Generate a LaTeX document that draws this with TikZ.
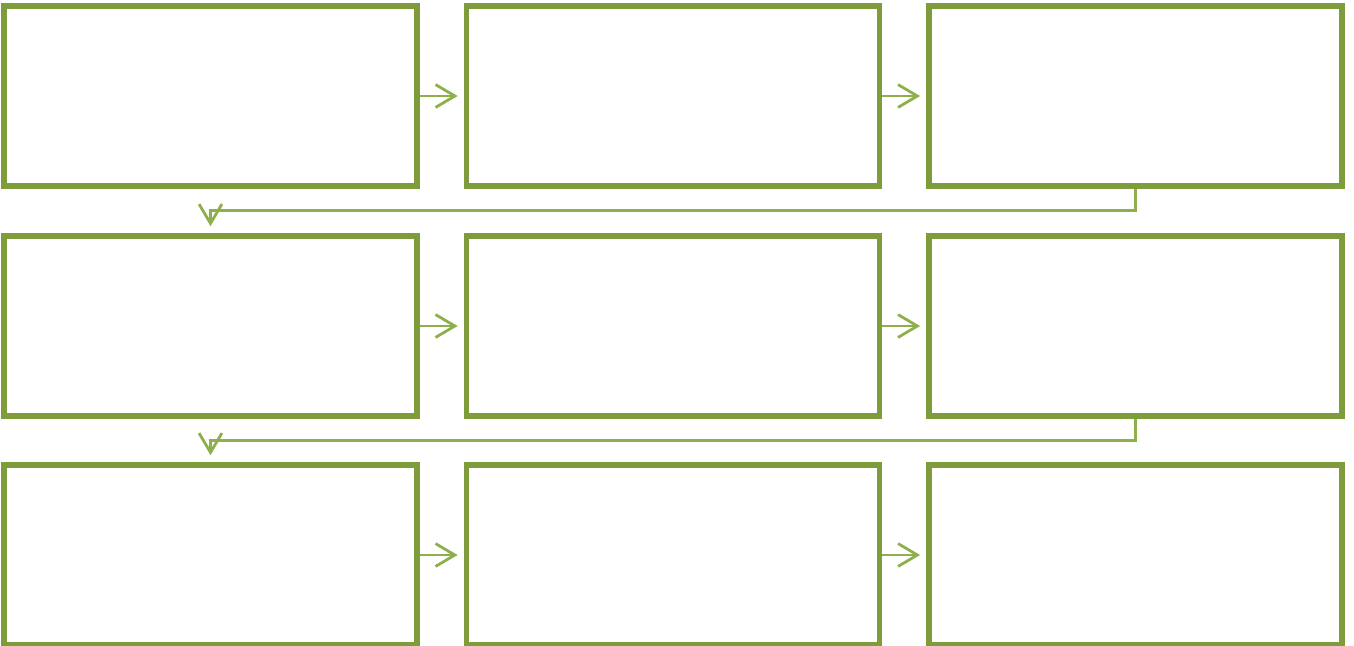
\documentclass[tikz,border=0pt]{standalone}
\usetikzlibrary{arrows.meta}
\definecolor{Olive}{HTML}{7E9C3C}
\definecolor{LightOlive}{HTML}{8DB04C}

\begin{document}
\begin{tikzpicture}[x=.01cm,y=-.01cm,>={Straight Barb[length=5.5pt,width=6.5pt]},
  stage/.style={draw=Olive,line width=.055cm,minimum width=4.13cm,minimum height=1.8cm,inner sep=0pt},
  link/.style={draw=LightOlive,line width=.028cm}]
\useasboundingbox (0,0) rectangle (1354,645);
\foreach \r/\y in {0/96,1/326,2/555}{
\foreach \c/\x in {1/210.5,2/673,3/1135.5}{
\node[stage]at(\x,\y)(s\r\c){};}}
\foreach \r in {0,1,2}{
\draw[link,->,shorten >=.06cm](s\r1.east)--(s\r2.west);
\draw[link,->,shorten >=.06cm](s\r2.east)--(s\r3.west);}
\draw[link,->,shorten >=.07cm](s03.south)--++(0,22)-|(s11.north);
\draw[link,->,shorten >=.07cm](s13.south)--++(0,22)-|(s21.north);
\end{tikzpicture}
\end{document}
